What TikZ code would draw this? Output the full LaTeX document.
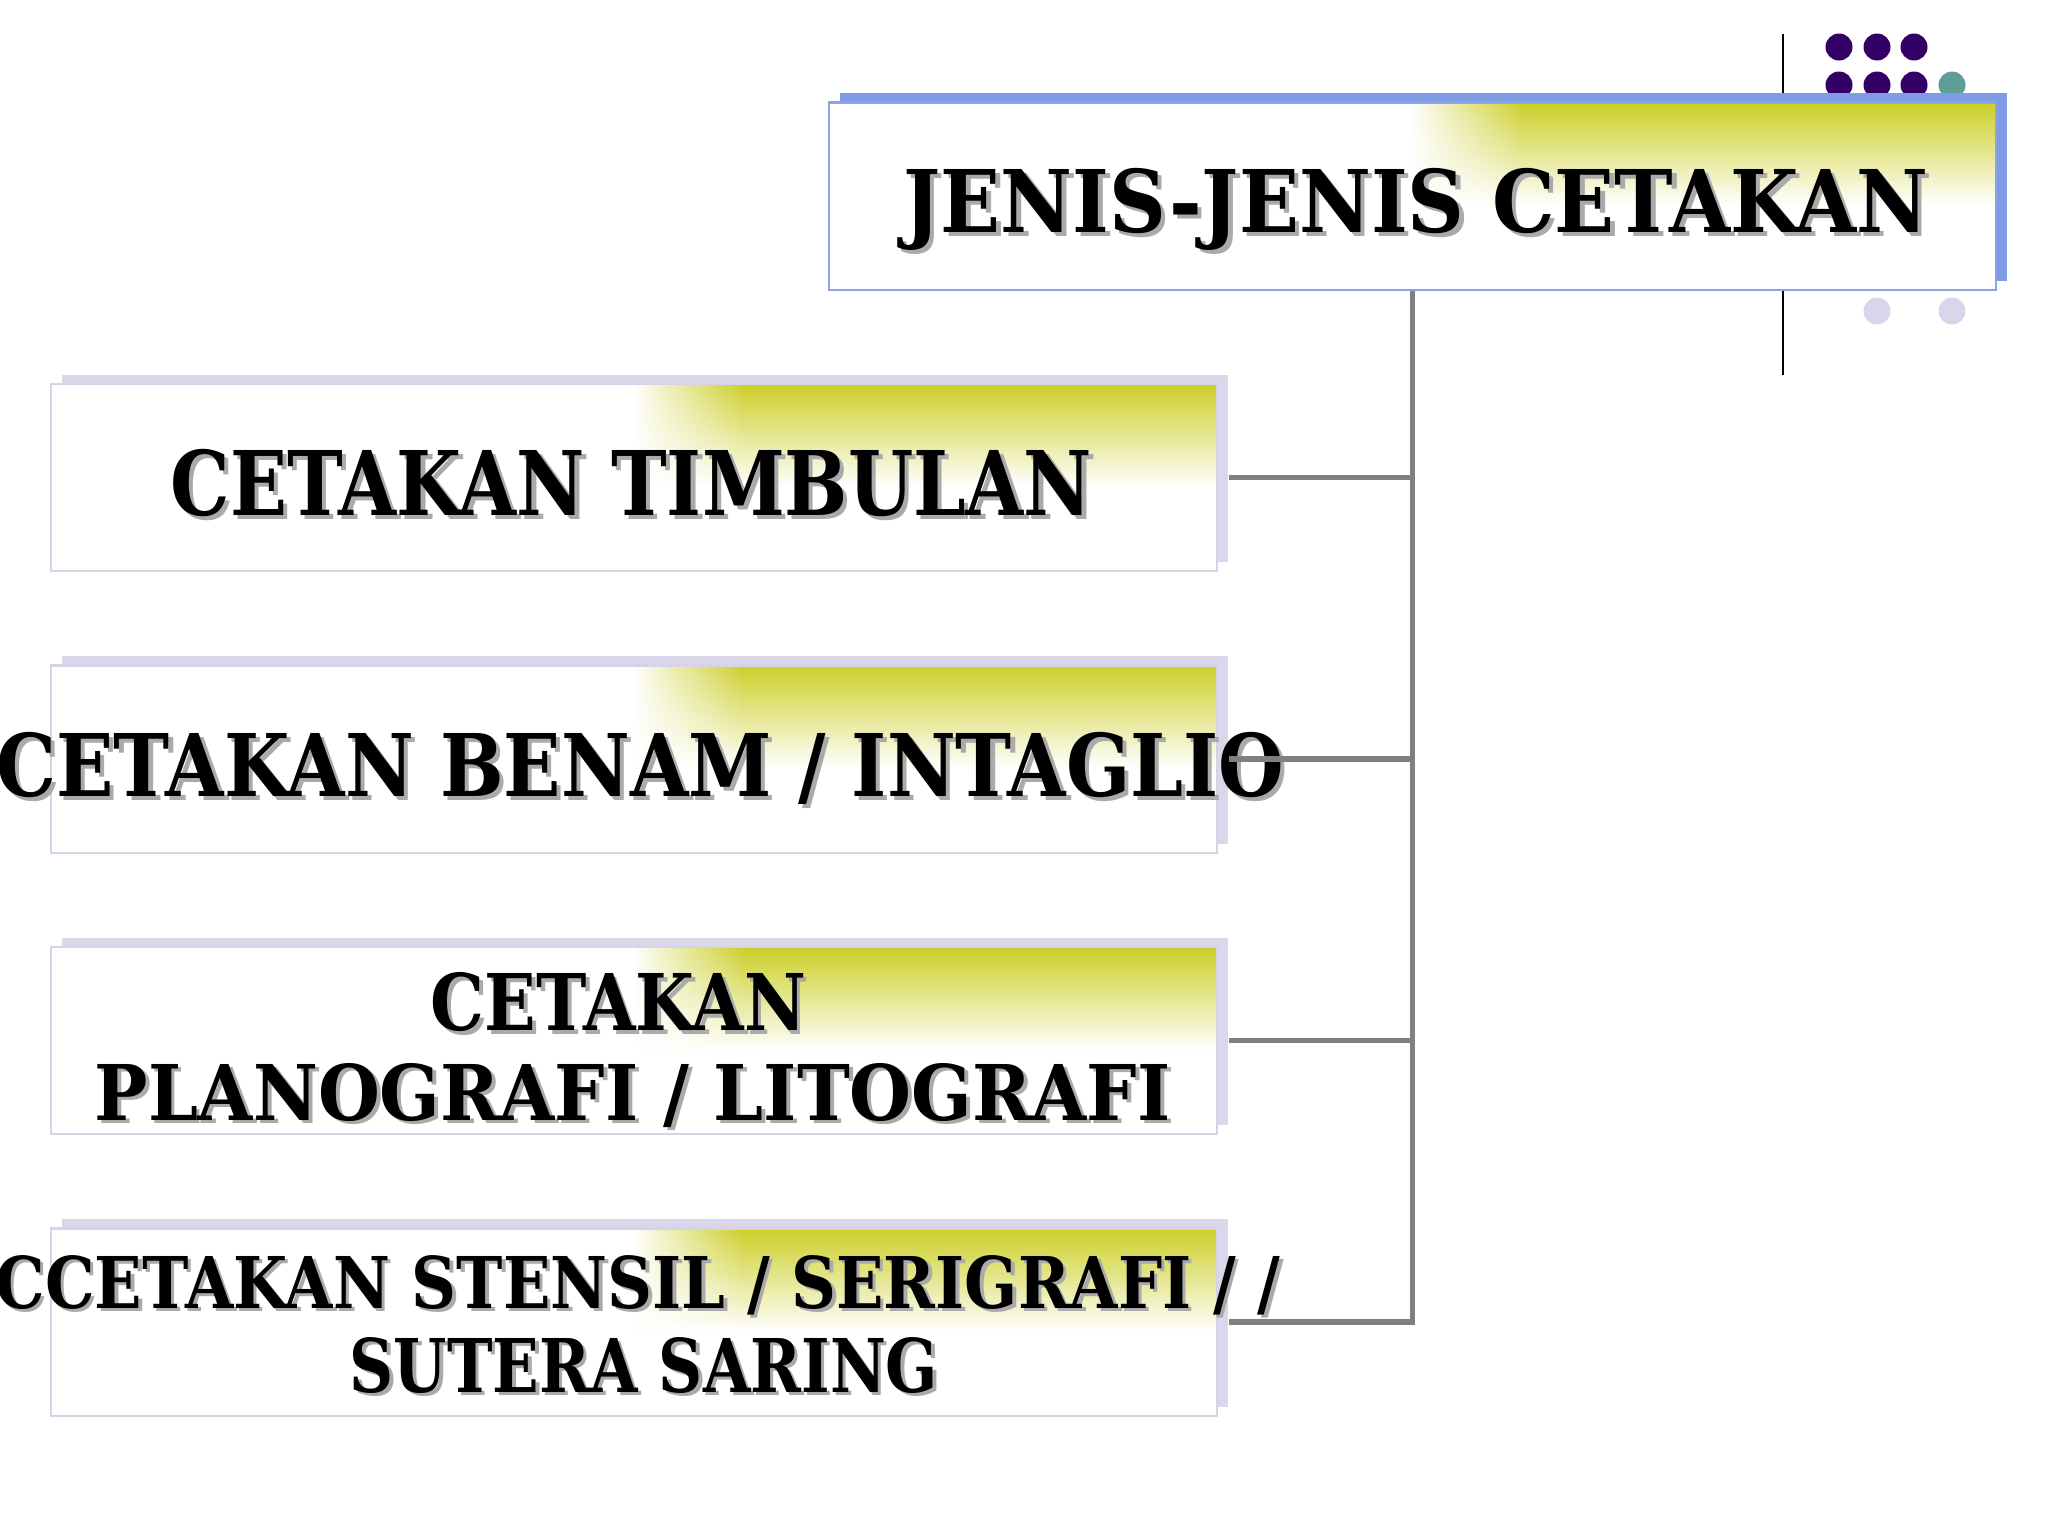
\documentclass[tikz,border=0pt]{standalone}
\usepackage{fontspec}
\usepackage{graphicx}
\usetikzlibrary{fadings,calc}
\newfontfamily\stampfont{DejaVu Serif}[FakeStretch=0.9]
\definecolor{yg}{RGB}{204,206,38}
\definecolor{blueback}{RGB}{126,156,228}
\definecolor{blueedge}{RGB}{140,164,228}
\definecolor{lavback}{RGB}{218,215,234}
\definecolor{lavedge}{RGB}{214,211,232}
\definecolor{purpdot}{RGB}{51,0,102}
\definecolor{tealdot}{RGB}{95,158,150}
\definecolor{lightdot}{RGB}{216,214,234}
\definecolor{conngray}{RGB}{128,128,128}
\definecolor{shadowgray}{RGB}{170,170,170}
\newcommand\stamp[3]{\resizebox{#1}{#2}{\stampfont\bfseries\raisebox{0pt}[\fontcharht\font`E][0pt]{\rlap{\smash{\kern0.05em\raisebox{-0.05em}{\color{shadowgray}#3}}}#3}}}
\newcommand\gradfill{%
  \coordinate (gN) at (path picture bounding box.north);
  \coordinate (gS) at (path picture bounding box.south);
  \coordinate (gNE) at (path picture bounding box.north east);
  \coordinate (gSE) at (path picture bounding box.south east);
  \foreach \i in {0,...,39}{%
    \pgfmathsetmacro\pa{\i/40*0.55}%
    \pgfmathsetmacro\pb{(\i+1.1)/40*0.55}%
    \pgfmathsetmacro\pc{100*(1-(\i+0.5)/40)}%
    \fill[yg!\pc!white] ($(gN)!\pa!(gS)$) rectangle ($(gNE)!\pb!(gSE)$);
  }
  \fill[white, path fading=east]
    ($(gN)+(-2,0)$) rectangle ($(gN)!0.57!(gS)+(110,0)$);
}
\begin{document}
\begin{tikzpicture}[x=0.01cm,y=-0.01cm,
  boxsize/.style={rectangle, inner sep=0pt, minimum width=11.66cm, minimum height=1.87cm},
  topback/.style={boxsize, fill=blueback},
  topfront/.style={boxsize, fill=white, draw=blueedge, line width=0.6pt, path picture={\gradfill}},
  childback/.style={boxsize, fill=lavback},
  childfront/.style={boxsize, fill=white, draw=lavedge, line width=0.6pt, path picture={\gradfill}},
  label/.style={inner sep=0pt, anchor=center},
  conn/.style={draw=conngray, line width=1.5pt, line join=miter},
  dot/.style={radius=13.5}]
\useasboundingbox (0,0) rectangle (2048,1536);
\clip (0,0) rectangle (2048,1536);
% decoration
\draw[black, line width=0.6pt] (1783,34) -- (1783,375);
\fill[purpdot] (1839,47) circle[dot];
\fill[purpdot] (1877,47) circle[dot];
\fill[purpdot] (1914,47) circle[dot];
\fill[purpdot] (1839,85) circle[dot];
\fill[purpdot] (1877,85) circle[dot];
\fill[purpdot] (1914,85) circle[dot];
\fill[tealdot] (1952,85) circle[dot];
\fill[lightdot] (1877,311) circle[dot];
\fill[lightdot] (1952,311) circle[dot];
% top box
\node[topback] (topb) at (1423.5,187) {};
\node[topfront] (top) at (1412.5,196) {};
\node[label] (t0) at (1416,201) {\stamp{10.24cm}{0.63cm}{JENIS-JENIS CETAKAN}};
% child boxes
\node[childback] (c1b) at (645,468.5) {};
\node[childfront] (c1) at (634,477.5) {};
\node[childback] (c2b) at (645,750) {};
\node[childfront] (c2) at (634,759) {};
\node[childback] (c3b) at (645,1031.5) {};
\node[childfront] (c3) at (634,1040.5) {};
\node[childback] (c4b) at (645,1313) {};
\node[childfront] (c4) at (634,1322) {};
\node[label] (t1) at (631.5,483) {\stamp{9.21cm}{0.65cm}{CETAKAN TIMBULAN}};
\node[label] (t2) at (640.5,765) {\stamp{12.87cm}{0.63cm}{CETAKAN BENAM / INTAGLIO}};
\node[label] (t3a) at (618.5,1002) {\stamp{3.75cm}{0.57cm}{CETAKAN}};
\node[label] (t3b) at (632.5,1092) {\stamp{10.75cm}{0.56cm}{PLANOGRAFI / LITOGRAFI}};
\node[label] (t4a) at (638,1282) {\stamp{12.84cm}{0.52cm}{CCETAKAN STENSIL / SERIGRAFI / /}};
\node[label] (t4b) at (644,1365) {\stamp{5.88cm}{0.54cm}{SUTERA SARING}};
% connectors
\coordinate (j4) at (top.south |- c4.east);
\draw[conn] (top.south) -- (j4) -- (c4b.east |- c4.east);
\draw[conn] (c1b.east |- c1.east) -- (top.south |- c1.east);
\draw[conn] (c2b.east |- c2.east) -- (top.south |- c2.east);
\draw[conn] (c3b.east |- c3.east) -- (top.south |- c3.east);
\end{tikzpicture}
\end{document}
